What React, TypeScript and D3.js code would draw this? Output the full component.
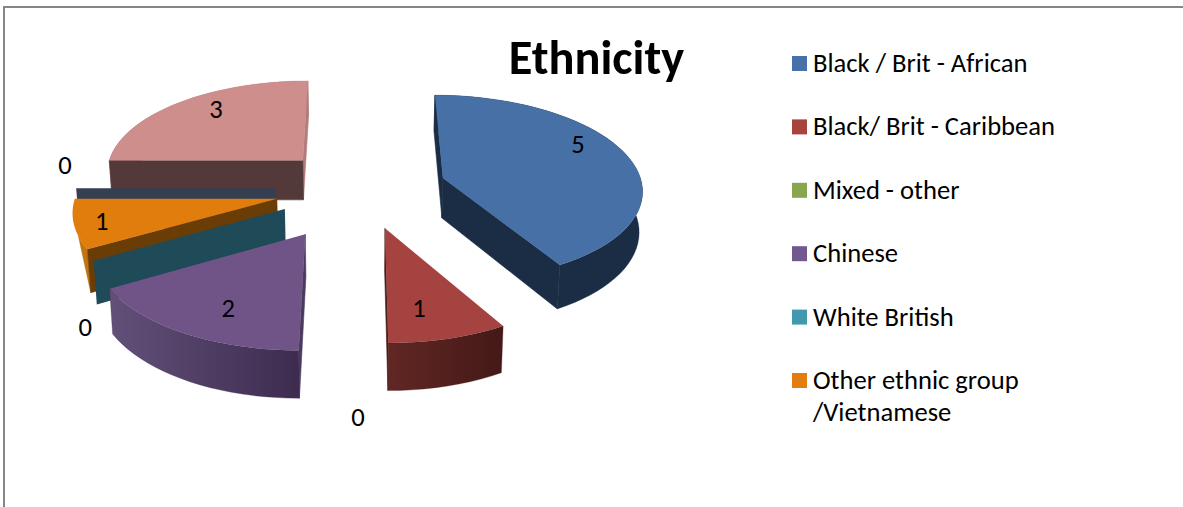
import React from "react";
import * as d3 from "d3";

// ---- data read from the picture ----
const categories = ["Black / Brit - African", "Black/ Brit - Caribbean", "Mixed - other", "Chinese", "White British", "Other ethnic group", "Unlabelled", "Unlabelled 2"];
const values = [5, 1, 0, 2, 0, 1, 0, 3];
const legendRows = [["Black / Brit - African"], ["Black/ Brit - Caribbean"], ["Mixed - other"], ["Chinese"], ["White British"], ["Other ethnic group", "/Vietnamese"]];
const legendColors = ["#4672A8", "#A8423F", "#89A54E", "#71588F", "#4198AF", "#E47D10"];

// ---- styling per slice ----
const topColors = ["#4670A6", "#A54340", "#89A54E", "#705488", "#4198AF", "#E07D0C", "#4F6080", "#CE8E8C"];
const startWall = ["#1B2D45", "#451A18", "#3A4A20", "#4A3A5E", "#1F4A58", "#6B3D06", "#343F52", "#53393A"];
const endWall = ["#1B2D45", "#4A1C1A", "#3A4A20", "#4A3A5E", "#1F4A58", "#C0730F", "#343F52", "#B27C7A"];
const rimFrom = ["#1B2D45", "#612724", "#3A4A20", "#625079", "#1F4A58", "#C4760F", "#343F52", "#B27C7A"];
const rimTo = ["#1B2D45", "#441917", "#3A4A20", "#3D2C4F", "#1F4A58", "#C0730F", "#343F52", "#B27C7A"];
const showZeroWall = [false, false, false, false, true, false, true, false];
const rimShown = [1, 1, 1, 1, 1, 0.27, 1, 1];
const explode = [0.4255, 0.4255, 0.43, 0.54, 0.435, 0.435, 0.43, 0.43];
const labelRadius = [0.825, 0.733, 1.518, 0.736, 1.35, 0.866, 1.124, 0.797];
const labelAngle = [62, 169, 180.7, 205.9, 217.6, 254.7, 283, 321.6];
const paintOrder = [7, 6, 5, 4, 3, 2, 1, 0];

// ---- perspective camera ----
const vpX = 358, vpY = -702;
const xGain = 0.2244;
const originX = 0.019;
const depth = d3.scaleLinear().domain([0, 1]).range([0.0011234, 0.0011234 + 0.000118]);
const wallGain = 0.0455, wallShrink = 0.988;
type P = [number, number];
const project = (X: number, Y: number): P => {
  const yp = 1 / depth(Y);
  return [vpX + xGain * yp * X, vpY + yp];
};
const drop = ([x, y]: P): P => [vpX + (x - vpX) * wallShrink, y + wallGain * (y - vpY)];
const toRad = (deg: number) => (deg * Math.PI) / 180;

const pie = d3.pie<number>().sort(null).startAngle(0).endAngle(2 * Math.PI);
const arcs = pie(values);
const line = d3.line<P>();
const closed = (pts: P[]) => line(pts) + "Z";

const font = "Carlito, Lato, sans-serif";
const seam = 0.6;

function slices() {
  return arcs.map((a, i) => {
    const mid = (a.startAngle + a.endAngle) / 2;
    const ax = originX + explode[i] * Math.sin(mid);
    const ay = explode[i] * Math.cos(mid);
    const apex = project(ax, ay);
    const n = Math.max(2, Math.ceil(((a.endAngle - a.startAngle) / Math.PI) * 60));
    const rim: P[] = d3.range(n + 1).map((k) => {
      const t = a.startAngle + ((a.endAngle - a.startAngle) * k) / n;
      return project(ax + Math.sin(t), ay + Math.cos(t));
    });
    const first = rim[0], last = rim[rim.length - 1];
    const lr = toRad(labelAngle[i]);
    const label = project(ax + labelRadius[i] * Math.sin(lr), ay + labelRadius[i] * Math.cos(lr));
    const rimWall = rimShown[i] < 1
      ? closed([...rim.slice(0, Math.round(n * rimShown[i]) + 1), drop(first)])
      : closed([...rim, ...rim.map(drop).reverse()]);
    return {
      i,
      top: closed([apex, ...rim]),
      rimWall,
      start: closed([apex, first, drop(first), drop(apex)]),
      end: closed([apex, last, drop(last), drop(apex)]),
      startFront: Math.sin(a.startAngle) < -1e-6,
      endFront: Math.sin(a.endAngle) > 1e-6,
      startBack: Math.sin(a.startAngle) > 1e-6,
      endBack: Math.sin(a.endAngle) < -1e-6,
      label,
      zero: a.value === 0,
    };
  });
}

export default function App() {
  const data = slices();
  return (
    <svg width={1183} height={507} style={{ position: "absolute", left: 0, top: 0, background: "#fff" }}>
      <defs>
        {values.map((_, i) => (
          <linearGradient key={i} id={`rim${i}`} x1="0" x2="1" y1="0" y2="0">
            <stop offset="0" stopColor={rimFrom[i]} />
            <stop offset="1" stopColor={rimTo[i]} />
          </linearGradient>
        ))}
      </defs>
      <path d="M4,507V7H1183" fill="none" stroke="#868686" strokeWidth={2} />
      {paintOrder.map((idx) => {
        const s = data[idx];
        if (s.zero) {
          return showZeroWall[idx] ? <path key={idx} d={s.start} fill={startWall[idx]} /> : null;
        }
        const startEl = <path d={s.start} fill={startWall[idx]} stroke={startWall[idx]} strokeWidth={seam} />;
        const endEl = <path d={s.end} fill={endWall[idx]} stroke={endWall[idx]} strokeWidth={seam} />;
        return (
          <g key={idx}>
            {!s.startFront && !s.startBack && startEl}
            {!s.endFront && !s.endBack && endEl}
            <path d={s.rimWall} fill={`url(#rim${idx})`} stroke={rimTo[idx]} strokeWidth={seam / 2} />
            {s.startFront && startEl}
            {s.endFront && endEl}
            <path d={s.top} fill={topColors[idx]} />
          </g>
        );
      })}
      {data.map((s) => (
        <text key={s.i} x={s.label[0]} y={s.label[1]} dy="0.33em" textAnchor="middle" fontFamily={font} fontSize={26.6} fill="#000">
          {values[s.i]}
        </text>
      ))}
      <text x={596.5} y={73.8} textAnchor="middle" fontFamily={font} fontWeight={700} fontSize={48.4} fill="#000">
        Ethnicity
      </text>
      {legendRows.map((rows, i) => {
        const cy = d3.scaleLinear().domain([0, 5]).range([63.5, 380.5])(i);
        return (
          <g key={i}>
            <rect x={792} y={cy - 7.5} width={15} height={15} fill={legendColors[i]} />
            {rows.map((r, j) => (
              <text key={j} x={813} y={cy + 8.5 + j * 32} fontFamily={font} fontSize={26.6} fill="#000">
                {r}
              </text>
            ))}
          </g>
        );
      })}
    </svg>
  );
}
